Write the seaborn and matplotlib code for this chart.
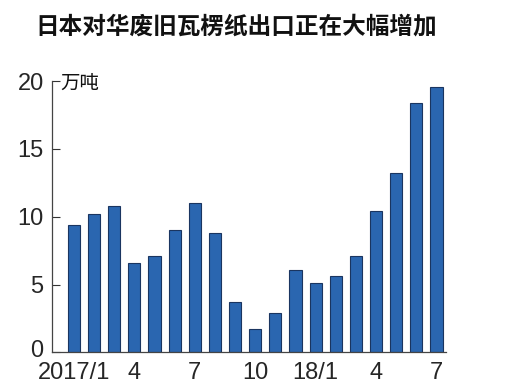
import matplotlib
matplotlib.use("Agg")
import matplotlib.pyplot as plt
import matplotlib.transforms as mtransforms
import seaborn as sns
import pandas as pd

# monthly exports, 10k tonnes (2017/1 .. 2018/7)
months = list(range(19))
values = [9.4, 10.2, 10.8, 6.6, 7.1, 9.0, 11.0, 8.8, 3.7, 1.75, 2.9, 6.1,
          5.1, 5.65, 7.1, 10.4, 13.25, 18.35, 19.6]
tick_pos = [0, 3, 6, 9, 12, 15, 18]
tick_labels = ["2017/1", "4", "7", "10", "18/1", "4", "7"]
y_ticks = [0, 5, 10, 15, 20]

title = "日本对华废旧瓦楞纸出口正在大幅增加"
unit = "万吨"

sns.set_style("white")
cjk = ["Noto Sans CJK SC", "DejaVu Sans"]
narrow = ["Liberation Sans Narrow", "Liberation Sans", "DejaVu Sans"]

df = pd.DataFrame({"month": months, "value": values})

fig = plt.figure(figsize=(5.15, 3.88), dpi=100)
ax = fig.add_axes([0.101, 0.0915, 0.765, 0.6995])

sns.barplot(data=df, x="month", y="value", color="#2a66b0", width=0.6,
            edgecolor="#1a3560", linewidth=0.8, saturation=1, ax=ax)

ax.set_xlim(-1.09, 18.47)
ax.set_ylim(0, 20)
ax.set_xlabel("")
ax.set_ylabel("")
ax.set_yticks(y_ticks)
ax.set_yticklabels([str(t) for t in y_ticks], family=narrow, fontsize=17)
ax.set_xticks(tick_pos)
ax.set_xticklabels(tick_labels, family=narrow, fontsize=17)
ax.tick_params(axis="y", direction="in", length=6, width=0.8, color="#333333", pad=6, left=True)
ax.tick_params(axis="x", length=0, pad=7)

# the "0" sits a little above the baseline in the original
lbl0 = ax.get_yticklabels()[0]
lbl0.set_transform(lbl0.get_transform() + mtransforms.ScaledTranslation(0, 4 / 100, fig.dpi_scale_trans))

for s in ["top", "right"]:
    ax.spines[s].set_visible(False)
for s in ["left", "bottom"]:
    ax.spines[s].set_color("#444444")
    ax.spines[s].set_linewidth(0.9)

# unit label next to the top tick
ax.text(0.022, 19.8, unit, transform=ax.get_yaxis_transform(), ha="left", va="center",
        family=cjk, fontsize=14, color="#111111")

fig.text(35 / 515, 1 - 26 / 388, title, ha="left", va="center",
         family=cjk, fontsize=17, fontweight="bold", color="#111111")

fig.savefig("out.png", dpi=100)
